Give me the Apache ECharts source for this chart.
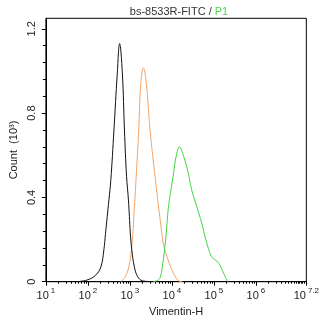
<!DOCTYPE html>
<html><head><meta charset="utf-8">
<script src="https://cdn.jsdelivr.net/npm/echarts@6/dist/echarts.min.js"></script>
<style>html,body{margin:0;padding:0;background:#fff}#c{width:322px;height:325px}</style>
</head><body><div id="c"></div>
<script>
// log10(Vimentin-H) and Count (10^3)
const blackX = [1.72, 1.98, 2.19, 2.31, 2.38, 2.42, 2.46, 2.50, 2.545, 2.62, 2.70, 2.755, 2.82, 2.87, 2.92, 2.965, 3.01, 3.045, 3.105, 3.185, 3.30, 3.45, 3.55];
const blackY = [0, 0.008, 0.032, 0.071, 0.151, 0.23, 0.309, 0.388, 0.48, 0.72, 0.99, 1.13, 0.99, 0.72, 0.50, 0.388, 0.23, 0.151, 0.071, 0.024, 0.004, 0.001, 0];
const orangeX = [2.78, 2.88, 2.98, 3.05, 3.10, 3.15, 3.21, 3.26, 3.32, 3.39, 3.48, 3.61, 3.75, 3.81, 3.94, 4.04, 4.15, 4.25];
const orangeY = [0, 0.02, 0.075, 0.18, 0.33, 0.50, 0.72, 0.943, 1.015, 0.943, 0.72, 0.48, 0.246, 0.166, 0.087, 0.04, 0.005, 0];
const greenX = [3.55, 3.65, 3.72, 3.77, 3.85, 3.92, 4.04, 4.10, 4.18, 4.28, 4.39, 4.47, 4.59, 4.71, 4.81, 4.94, 5.02, 5.12, 5.23, 5.33];
const greenY = [0, 0.005, 0.02, 0.07, 0.198, 0.357, 0.515, 0.594, 0.639, 0.594, 0.515, 0.436, 0.357, 0.278, 0.198, 0.119, 0.105, 0.087, 0.04, 0];

const xMajorTicks = [1, 2, 3, 4, 5, 6, 7.2];
const xLabelValues = [1, 2, 3, 4, 5, 6, 7.2];
const minorMultipliers = [2, 3, 4, 5, 6, 7, 8, 9];
const minorDecades = [1, 2, 3, 4, 5, 6];
const extraMinorTicks = [7, 7.0414, 7.0792, 7.1139, 7.1461];
const yLabelValues = [0, 0.4, 0.8, 1.2];
const yMinorTicks = [0.08, 0.16, 0.24, 0.32, 0.48, 0.56, 0.64, 0.72, 0.88, 0.96, 1.04, 1.12];

const xMinorTicks = [];
minorDecades.forEach(d => minorMultipliers.forEach(m => xMinorTicks.push(d + Math.log10(m))));
extraMinorTicks.forEach(v => xMinorTicks.push(v));

const toPairs = (xs, ys) => xs.map((x, i) => [x, ys[i]]);
const FONT = 'Liberation Sans, Arial, sans-serif';
const txt = '#222';

const chart = echarts.init(document.getElementById('c'), null, {renderer: 'canvas'});
chart.setOption({
  animation: false,
  backgroundColor: '#fff',
  title: {
    text: '{a|bs-8533R-FITC / }{b|P1}',
    left: 174, top: 1, textAlign: 'center',
    textStyle: {
      fontFamily: FONT, fontSize: 11, fontWeight: 'normal',
      rich: {
        a: {fontFamily: FONT, fontSize: 11, color: '#333'},
        b: {fontFamily: FONT, fontSize: 11, color: '#4cd94c'}
      }
    }
  },
  grid: {left: 43.3, right: 13.7, top: 18.3, bottom: 43.3, show: true, borderColor: '#000', borderWidth: 1, backgroundColor: 'transparent'},
  xAxis: [{
    type: 'value', min: 1, max: 7.2, interval: 1,
    name: 'Vimentin-H', nameLocation: 'middle', nameGap: 25,
    nameTextStyle: {fontFamily: FONT, fontSize: 11, color: txt},
    axisLine: {show: true, lineStyle: {color: '#000', width: 1}},
    axisTick: {show: true, length: 4, customValues: xMajorTicks, lineStyle: {color: '#000'}},
    splitLine: {show: false},
    axisLabel: {
      customValues: xLabelValues, margin: 5, showMaxLabel: true, showMinLabel: true,
      formatter: v => '{b|10}{s|' + (Math.round(v * 10) / 10) + '}',
      rich: {
        b: {fontFamily: FONT, fontSize: 11, color: txt, lineHeight: 15, verticalAlign: 'bottom'},
        s: {fontFamily: FONT, fontSize: 8, color: txt, lineHeight: 15, verticalAlign: 'top', padding: [0, 0, 0, 2]}
      }
    }
  }, {
    type: 'value', min: 1, max: 7.2, position: 'bottom', gridIndex: 0,
    axisLine: {show: false},
    axisTick: {show: true, length: 2, customValues: xMinorTicks, lineStyle: {color: '#000'}},
    axisLabel: {show: false}, splitLine: {show: false}
  }],
  yAxis: [{
    type: 'value', min: 0, max: 1.25, interval: 0.4,
    name: 'Count  (10³)', nameLocation: 'middle', nameGap: 26,
    nameTextStyle: {fontFamily: FONT, fontSize: 11, color: txt},
    axisLine: {show: true, lineStyle: {color: '#000', width: 1}},
    axisTick: {show: true, length: 4, customValues: yLabelValues, lineStyle: {color: '#000'}},
    splitLine: {show: false},
    axisLabel: {
      customValues: yLabelValues, rotate: 90, margin: 8,
      fontFamily: FONT, fontSize: 11, color: txt,
      formatter: v => String(Math.round(v * 10) / 10)
    }
  }, {
    type: 'value', min: 0, max: 1.25, position: 'left', gridIndex: 0,
    axisLine: {show: false},
    axisTick: {show: true, length: 3, customValues: yMinorTicks, lineStyle: {color: '#000'}},
    axisLabel: {show: false}, splitLine: {show: false}
  }],
  series: [
    {type: 'line', data: toPairs(blackX, blackY), smooth: 0.4, showSymbol: false, lineStyle: {color: '#111', width: 1}, z: 3},
    {type: 'line', data: toPairs(orangeX, orangeY), smooth: 0.4, showSymbol: false, lineStyle: {color: '#f2a46a', width: 1}, z: 2},
    {type: 'line', data: toPairs(greenX, greenY), smooth: 0.4, showSymbol: false, lineStyle: {color: '#44d444', width: 1}, z: 2}
  ]
});
</script>
</body></html>
